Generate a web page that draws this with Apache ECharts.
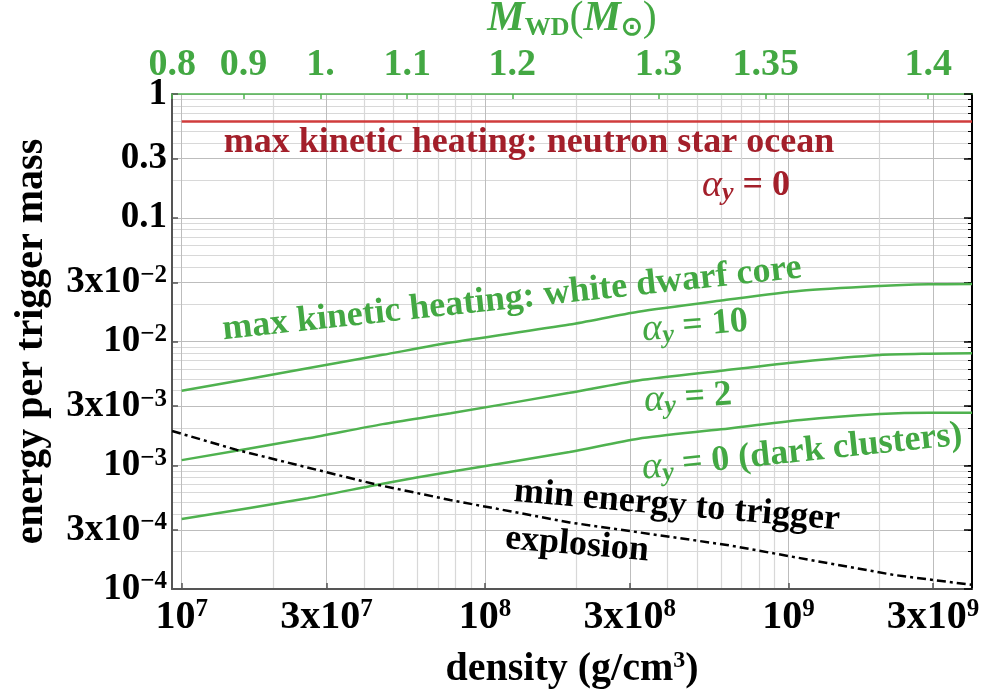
<!DOCTYPE html>
<html>
<head>
<meta charset="utf-8">
<script src="https://cdn.jsdelivr.net/npm/echarts@6/dist/echarts.min.js"></script>
<style>
html, body { margin: 0; padding: 0; background: #fff; }
#main { width: 984px; height: 696px; }
</style>
</head>
<body>
<div id="main"></div>
<script>
const FONT = 'Liberation Serif';
const GREEN = '#4fb24f';
const GREEN_TXT = '#43a843';
const RED_TXT = '#a31f2a';

// axis range (density g/cm^3, energy per trigger mass)
const rhoMin = 9.29e6, rhoMax = 4.03e9;
const eMin = 1e-4, eMax = 1;

// white dwarf core curves
const densityWD = [1e7, 2.6e7, 4.6e7, 7.7e7, 1.9e8, 3.2e8, 6.0e8, 1.1e9, 2.0e9, 2.9e9, 4.03e9];
const alpha10 = [4.0e-3, 6.07e-3, 7.8e-3, 9.8e-3, 1.37e-2, 1.74e-2, 2.14e-2, 2.57e-2, 2.81e-2, 2.90e-2, 2.92e-2];
const alpha2 = [1.10e-3, 1.65e-3, 2.15e-3, 2.63e-3, 3.85e-3, 4.85e-3, 5.81e-3, 6.87e-3, 7.78e-3, 7.97e-3, 8.03e-3];
const alpha0 = [3.68e-4, 5.41e-4, 7.1e-4, 8.87e-4, 1.28e-3, 1.64e-3, 1.95e-3, 2.32e-3, 2.59e-3, 2.66e-3, 2.66e-3];

// min energy to trigger explosion
const densityMin = [9.3e6, 1.52e7, 4.34e7, 7.67e7, 1.9e8, 6.27e8, 2.22e9, 4.03e9];
const minEnergy = [1.89e-3, 1.33e-3, 7.02e-4, 5.24e-4, 3.45e-4, 2.27e-4, 1.30e-4, 1.08e-4];

// neutron star ocean
const densityNS = [1e7, 4.03e9];
const nsEnergy = [0.6, 0.6];

// tick labels
const xTickVals = [1e7, 3e7, 1e8, 3e8, 1e9, 3e9];
const xTickText = ['10^7', '3x10^7', '10^8', '3x10^8', '10^9', '3x10^9'];
const yTickVals = [1, 0.3, 0.1, 0.03, 0.01, 0.003, 0.001, 0.0003, 0.0001];
const yTickText = ['1', '0.3', '0.1', '3x10^−2', '10^−2', '3x10^−3', '10^−3', '3x10^−4', '10^−4'];
const mwdDensity = [9.3e6, 1.6e7, 2.87e7, 5.54e7, 1.23e8, 3.73e8, 8.42e8, 2.89e9];
const mwdText = ['0.8', '0.9', '1.', '1.1', '1.2', '1.3', '1.35', '1.4'];

function zip(xs, ys) { return xs.map((x, i) => [x, ys[i]]); }
function pick(vals, texts, v) {
  let best = 0, d = Infinity;
  vals.forEach((t, i) => {
    const dd = Math.abs(Math.log10(t) - Math.log10(v));
    if (dd < d) { d = dd; best = i; }
  });
  return texts[best];
}
function sup(str) {
  const p = str.split('^');
  return p.length > 1 ? '{b|' + p[0] + '}{s|' + p[1] + '}' : '{b|' + str + '}';
}
function gridVals(lo, hi, skip) {
  const out = [];
  for (let e = Math.floor(Math.log10(lo)); e <= Math.ceil(Math.log10(hi)); e++) {
    for (let m = 1; m < 10; m++) {
      const v = m * Math.pow(10, e);
      if (v >= lo * 1.0001 && v <= hi * 0.9999 && !skip.some(s => Math.abs(s / v - 1) < 1e-6)) out.push(v);
    }
  }
  return out;
}
function richNum(size, supSize, color) {
  return {
    b: { fontFamily: FONT, fontWeight: 'bold', fontSize: size, lineHeight: size + 2, color: color },
    s: { fontFamily: FONT, fontWeight: 'bold', fontSize: supSize, lineHeight: supSize, verticalAlign: 'top', color: color }
  };
}

const minorX = gridVals(rhoMin, rhoMax, xTickVals);
const minorY = gridVals(eMin, eMax, yTickVals);
const allY = gridVals(eMin, eMax, []);

var myChart = echarts.init(document.getElementById('main'));

function note(text, x, y, deg, color, rich) {
  return {
    type: 'text', x: x, y: y, rotation: deg * Math.PI / 180, silent: true, z: 100,
    style: {
      text: text, fill: color, font: 'bold 36px "' + FONT + '"',
      align: 'center', verticalAlign: 'middle', textAlign: 'center', textVerticalAlign: 'middle',
      rich: rich
    }
  };
}
function alphaRich(color) {
  return {
    a: { fontFamily: FONT, fontStyle: 'italic', fontWeight: 'normal', fontSize: 38, lineHeight: 40, fill: color },
    y: { fontFamily: FONT, fontStyle: 'italic', fontWeight: 'bold', fontSize: 26, lineHeight: 22, verticalAlign: 'bottom', fill: color },
    e: { fontFamily: FONT, fontWeight: 'bold', fontSize: 36, lineHeight: 40, fill: color }
  };
}

var lineBase = { type: 'line', symbol: 'none', silent: true, animation: false, xAxisIndex: 0, yAxisIndex: 0 };

var option = {
  animation: false,
  grid: { left: 172, right: 12, top: 94, bottom: 107, containLabel: false, outerBoundsMode: 'none' },
  xAxis: [{
    type: 'log', position: 'bottom', min: rhoMin, max: rhoMax,
    axisLine: { show: true, onZero: false, lineStyle: { color: '#555', width: 2 } },
    axisTick: { show: true, inside: true, length: 6, customValues: xTickVals, lineStyle: { color: '#555', width: 1.5 } },
    axisLabel: { customValues: xTickVals, margin: 8, formatter: v => sup(pick(xTickVals, xTickText, v)), rich: richNum(40, 25, '#000') },
    splitLine: { show: true, lineStyle: { color: '#bdbdbd', width: 1 } },
    name: '{b|density (g/cm}{s|3}{b|)}', nameLocation: 'middle', nameGap: 60,
    nameTextStyle: { rich: richNum(40, 24, '#000') }
  }, {
    type: 'log', position: 'top', min: rhoMin, max: rhoMax,
    axisLine: { show: true, onZero: false, lineStyle: { color: GREEN, width: 1.5 } },
    axisTick: { show: true, inside: true, length: 5, customValues: mwdDensity, lineStyle: { color: GREEN, width: 1.5 } },
    axisLabel: {
      customValues: mwdDensity, margin: 10, color: GREEN_TXT, fontFamily: FONT, fontWeight: 'bold', fontSize: 38,
      formatter: v => pick(mwdDensity, mwdText, v)
    },
    splitLine: { show: false },
    name: '{i|M}{sb|WD}{p|(}{i|M}{sb|⊙}{p|)}', nameLocation: 'middle', nameGap: 50,
    nameTextStyle: {
      rich: {
        i: { fontFamily: FONT, fontStyle: 'italic', fontWeight: 'bold', fontSize: 42, lineHeight: 44, color: GREEN_TXT },
        sb: { fontFamily: FONT, fontWeight: 'bold', fontSize: 26, lineHeight: 24, verticalAlign: 'bottom', color: GREEN_TXT },
        p: { fontFamily: FONT, fontSize: 42, lineHeight: 44, color: GREEN_TXT }
      }
    }
  }, {
    type: 'log', position: 'bottom', min: rhoMin, max: rhoMax,
    axisLine: { show: false }, axisTick: { show: false, customValues: minorX }, axisLabel: { show: false },
    splitLine: { show: true, lineStyle: { color: '#d8d8d8', width: 1.2 } }
  }],
  yAxis: [{
    type: 'log', position: 'left', min: eMin, max: eMax,
    axisLine: { show: true, onZero: false, lineStyle: { color: '#555', width: 2 } },
    axisTick: { show: true, inside: true, length: 6, customValues: yTickVals, lineStyle: { color: '#555', width: 1.5 } },
    axisLabel: { customValues: yTickVals, margin: 5, formatter: v => sup(pick(yTickVals, yTickText, v)), rich: richNum(37, 25, '#000') },
    splitLine: { show: true, lineStyle: { color: '#bdbdbd', width: 1 } },
    name: 'energy per trigger mass', nameLocation: 'middle', nameGap: 120,
    nameTextStyle: { fontFamily: FONT, fontWeight: 'bold', fontSize: 40, color: '#000' }
  }, {
    type: 'log', position: 'right', min: eMin, max: eMax,
    axisLine: { show: true, onZero: false, lineStyle: { color: '#000', width: 2 } },
    axisTick: { show: true, inside: true, length: 4, customValues: allY, lineStyle: { color: '#000', width: 1 } },
    axisLabel: { show: false }, splitLine: { show: false }
  }, {
    type: 'log', position: 'right', min: eMin, max: eMax,
    axisLine: { show: false },
    axisTick: { show: true, inside: true, length: 8, customValues: yTickVals, lineStyle: { color: '#000', width: 1.5 } },
    axisLabel: { show: false }, splitLine: { show: false }
  }, {
    type: 'log', position: 'left', min: eMin, max: eMax,
    axisLine: { show: false }, axisTick: { show: false, customValues: minorY }, axisLabel: { show: false },
    splitLine: { show: true, lineStyle: { color: '#d8d8d8', width: 1.2 } }
  }],
  series: [
    Object.assign({}, lineBase, { name: 'neutron star ocean', data: zip(densityNS, nsEnergy), lineStyle: { color: '#d03c3c', width: 2.5 } }),
    Object.assign({}, lineBase, { name: 'alpha 10', data: zip(densityWD, alpha10), smooth: 0.25, lineStyle: { color: GREEN, width: 2.5 } }),
    Object.assign({}, lineBase, { name: 'alpha 2', data: zip(densityWD, alpha2), smooth: 0.25, lineStyle: { color: GREEN, width: 2.5 } }),
    Object.assign({}, lineBase, { name: 'alpha 0', data: zip(densityWD, alpha0), smooth: 0.25, lineStyle: { color: GREEN, width: 2.5 } }),
    Object.assign({}, lineBase, { name: 'min energy', data: zip(densityMin, minEnergy), lineStyle: { color: '#000', width: 2.5, type: [9, 4, 3, 4] } })
  ],
  graphic: [
    note('max kinetic heating: neutron star ocean', 529, 143, 0, RED_TXT),
    note('{a|α}{y|y}{e| = 0}', 746, 186, 0, RED_TXT, alphaRich(RED_TXT)),
    note('max kinetic heating: white dwarf core', 512, 299, 6.1, GREEN_TXT),
    note('{a|α}{y|y}{e| = 10}', 695, 326, 5, GREEN_TXT, alphaRich(GREEN_TXT)),
    note('{a|α}{y|y}{e| = 2}', 688, 398, 4, GREEN_TXT, alphaRich(GREEN_TXT)),
    note('{a|α}{y|y}{e| = 0 (dark clusters)}', 802, 452, 6, GREEN_TXT, alphaRich(GREEN_TXT)),
    note('min energy to trigger', 677, 506, -5, '#000'),
    note('explosion', 577, 545, -5, '#000')
  ]
};
myChart.setOption(option);
</script>
</body>
</html>
